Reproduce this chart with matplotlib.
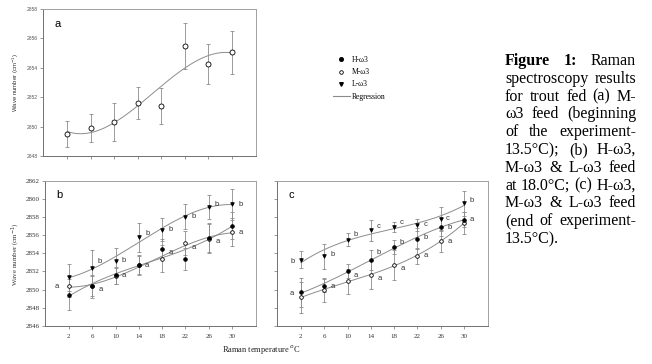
import numpy as np
import matplotlib
matplotlib.use("Agg")
import matplotlib.pyplot as plt
from matplotlib.lines import Line2D

# ---------------- data ----------------
temps = [2, 6, 10, 14, 18, 22, 26, 30]

a_m = [2849.5, 2849.9, 2850.3, 2851.6, 2851.4, 2855.5, 2854.27, 2855.05]
a_m_err = [0.9, 0.95, 1.3, 1.1, 1.25, 1.55, 1.37, 1.45]

b_h = [2849.44, 2850.4, 2851.56, 2852.67, 2854.52, 2853.4, 2855.75, 2857.07]
b_h_err = [1.7, 1.1, 0.95, 1.1, 1.1, 1.2, 1.6, 1.5]
b_m = [2850.35, 2850.35, 2851.5, 2852.67, 2853.4, 2855.15, 2855.6, 2856.33]
b_m_err = [1.2, 1.3, 0.9, 1.0, 1.5, 1.3, 1.6, 1.55]
b_l = [2851.33, 2852.37, 2853.19, 2855.78, 2856.63, 2858.07, 2859.11, 2859.41]
b_l_err = [1.45, 1.96, 1.44, 1.6, 1.26, 1.37, 1.33, 1.74]

c_h = [2849.7, 2850.44, 2852.04, 2853.3, 2854.7, 2855.63, 2856.89, 2857.74]
c_h_err = [1.6, 0.7, 0.75, 1.1, 0.8, 1.2, 1.0, 0.8]
c_m = [2849.15, 2849.96, 2850.89, 2851.6, 2852.74, 2853.74, 2855.33, 2857.37]
c_m_err = [1.7, 1.3, 1.35, 1.5, 1.65, 0.9, 1.2, 1.2]
c_l = [2853.3, 2853.67, 2855.52, 2856.56, 2856.93, 2857.15, 2857.81, 2859.52]
c_l_err = [0.95, 1.4, 0.7, 1.15, 0.55, 0.7, 1.3, 1.4]

# significance letters: (series, index, letter)
b_letters = [("M", 0, "a"), ("L", 1, "b"), ("M", 1, "a"), ("L", 2, "b"), ("H", 2, "a"),
             ("L", 3, "b"), ("M", 3, "a"), ("L", 4, "b"), ("H", 4, "a"),
             ("L", 5, "b"), ("M", 5, "a"), ("L", 6, "b"), ("M", 6, "a"),
             ("L", 7, "b"), ("M", 7, "a")]
c_letters = [("L", 0, "b"), ("H", 0, "a"), ("L", 1, "b"), ("H", 1, "a"),
             ("L", 2, "b"), ("H", 2, "a"), ("L", 3, "c"), ("H", 3, "b"), ("M", 3, "a"),
             ("L", 4, "c"), ("H", 4, "b"), ("M", 4, "a"), ("L", 5, "c"), ("H", 5, "b"),
             ("M", 5, "a"), ("L", 6, "c"), ("H", 6, "b"), ("M", 6, "a"),
             ("L", 7, "b"), ("H", 7, "a")]

legend_labels = ["H-\u03c93", "M-\u03c93", "L-\u03c93", "Regression"]
ylabel = "Wave number (cm$^{-1}$)"
xlabel = "Raman temperature $^{o}$C"
caption_lines = ["Figure 1: Raman", "spectroscopy results", "for trout fed (a) M-",
                 "\u03c93 feed (beginning", "of the experiment-",
                 "13.5\u00b0C); (b) H-\u03c93,", "M-\u03c93 & L-\u03c93 feed",
                 "at 18.0\u00b0C; (c) H-\u03c93,", "M-\u03c93 & L-\u03c93 feed",
                 "(end of experiment-", "13.5\u00b0C)."]

# ---------------- figure ----------------
W, H = 652, 364
fig = plt.figure(figsize=(W / 100, H / 100), dpi=100)
fig.patch.set_facecolor("white")

def px_axes(l, t, r, b):
    return fig.add_axes([l / W, 1 - b / H, (r - l) / W, (b - t) / H])

SERIF = ["Liberation Serif", "DejaVu Serif"]
SANS = ["Liberation Sans", "DejaVu Sans"]
LINE_C = "#8c8c8c"
ERR_C = "#8c8c8c"

def style_axes(ax):
    for s in ["top", "right"]:
        ax.spines[s].set_color("#a0a0a0")
    for s in ["left", "bottom"]:
        ax.spines[s].set_color("#707070")
    for s in ax.spines.values():
        s.set_linewidth(0.7)
    ax.tick_params(direction="out", length=2.2, width=0.5, colors="#707070", pad=1.5)
    ax.set_xlim(-2.1, 34.1)
    ax.set_xticks(temps)

xs = np.linspace(2, 30, 200)

def fit_curve(ax, y):
    p = np.polyfit(temps, y, 3)
    ax.plot(xs, np.polyval(p, xs), color=LINE_C, lw=0.7, zorder=1)

def series(ax, y, err, marker, face, ms):
    ax.errorbar(temps, y, yerr=err, fmt="none", ecolor=ERR_C, elinewidth=0.6,
                capsize=1.6, capthick=0.6, zorder=2)
    ax.plot(temps, y, linestyle="none", marker=marker, markersize=ms,
            markerfacecolor=face, markeredgecolor="black", markeredgewidth=0.6, zorder=3)

# panel a
axa = px_axes(43, 9, 256, 156)
style_axes(axa)
axa.set_ylim(2848, 2858)
axa.set_yticks(np.arange(2848, 2859, 2))
axa.set_xticklabels([])
for lab in axa.get_yticklabels():
    lab.set_fontfamily(SANS)
    lab.set_fontsize(3.6)
    lab.set_color("#555555")
fit_curve(axa, a_m)
series(axa, a_m, a_m_err, "o", "white", 3.6)
axa.text(0.055, 0.9, "a", transform=axa.transAxes, fontsize=8, family=SANS,
         va="center", ha="left")
fig.text(16 / W, 1 - 82 / H, ylabel, rotation=90, fontsize=4.3, family=SANS,
         ha="center", va="center", color="#333333")

# panels b and c
def lower_panel(l, r, h, he, m, me, lo, le, letters, tag, show_ylabels, offs):
    ax = px_axes(l, 181, r, 325.7)
    style_axes(ax)
    ax.set_ylim(2846, 2862)
    ax.set_yticks(np.arange(2846, 2863, 2))
    if not show_ylabels:
        ax.set_yticklabels([])
    for lab in ax.get_xticklabels() + ax.get_yticklabels():
        lab.set_fontfamily(SERIF)
        lab.set_fontsize(5)
        lab.set_color("#333333")
    ax.tick_params(axis="x", pad=3.5)
    for y in (h, m, lo):
        fit_curve(ax, y)
    series(ax, lo, le, "v", "black", 2.6)
    series(ax, m, me, "o", "white", 2.6)
    series(ax, h, he, "o", "black", 2.6)
    ax.text(0.055, 0.9, tag, transform=ax.transAxes, fontsize=8, family=SANS,
            va="center", ha="left")
    data = {"H": h, "M": m, "L": lo}
    for k, (s, i, letter) in enumerate(letters):
        dx, dy = offs.get((s, i), (4.5, 0))
        ax.annotate(letter, (temps[i], data[s][i]), xytext=(dx, dy),
                    textcoords="offset points", fontsize=5.5, family=SANS,
                    color="#333333", ha="left" if dx >= 0 else "right", va="center")
    return ax

b_offs = {("M", 0): (-7, 0), ("L", 1): (3.5, 5), ("M", 1): (4.5, -2),
          ("L", 3): (4.5, 2.5), ("H", 4): (4.5, -2.5), ("M", 5): (4.5, -3.5),
          ("L", 6): (4, 2), ("M", 6): (5, -2), ("L", 7): (4.5, 0)}
c_offs = {("L", 0): (-4.5, -1), ("H", 0): (-5, -1), ("L", 1): (4.5, 1),
          ("H", 1): (4.5, -1), ("L", 2): (4.5, 4), ("H", 2): (4.5, -3),
          ("L", 3): (4.5, 2.5), ("H", 3): (4, 5.5), ("M", 3): (5, -2.5),
          ("L", 4): (4, 3), ("H", 4): (4, 3.5), ("M", 4): (4.5, -2.5),
          ("L", 5): (4.5, 0), ("H", 5): (4.5, 0.5), ("M", 5): (4.5, 0.5),
          ("L", 6): (3.5, 0), ("H", 6): (4.5, 0), ("M", 6): (5, 0),
          ("L", 7): (4, 2), ("H", 7): (4, 0)}

axb = lower_panel(45, 256, b_h, b_h_err, b_m, b_m_err, b_l, b_l_err, b_letters, "b", True, b_offs)
axc = lower_panel(277, 488, c_h, c_h_err, c_m, c_m_err, c_l, c_l_err, c_letters, "c", False, c_offs)

fig.text(16 / W, 1 - 254 / H, ylabel, rotation=90, fontsize=5, family=SERIF,
         ha="center", va="center", color="#333333")
fig.text(261 / W, 1 - 350 / H, xlabel, fontsize=6, family=SERIF,
         ha="center", va="center", color="#222222")

# legend
handles = [Line2D([], [], ls="none", marker="o", mfc="black", mec="black", ms=2.6),
           Line2D([], [], ls="none", marker="o", mfc="white", mec="black", ms=2.6, mew=0.6),
           Line2D([], [], ls="none", marker="v", mfc="black", mec="black", ms=2.6),
           Line2D([], [], color=LINE_C, lw=0.8)]
fig.legend(handles, legend_labels, loc="upper left", bbox_to_anchor=(333 / W, 1 - 56 / H),
           frameon=False, prop={"family": SERIF, "size": 5.5}, labelspacing=0.55,
           handlelength=2.2, handletextpad=0.3, borderpad=0, borderaxespad=0)

# justified caption
fig.canvas.draw()
renderer = fig.canvas.get_renderer()
x0, x1 = 505, 636
CAP_FS = 11.5
for i, line in enumerate(caption_lines):
    words = line.split(" ")
    ybase = 1 - (65 + i * 17.8) / H
    texts = []
    for j, w in enumerate(words):
        bold = (i == 0 and j < 2)
        t = fig.text(0, ybase, w, fontsize=CAP_FS, family=SERIF,
                     weight="bold" if bold else "normal", va="baseline", ha="left")
        texts.append(t)
    widths = [t.get_window_extent(renderer).width for t in texts]
    last = (i == len(caption_lines) - 1)
    space = renderer.points_to_pixels(CAP_FS) * 0.25
    if len(words) > 1 and not last:
        gap = max((x1 - x0 - sum(widths)) / (len(words) - 1), space * 0.6)
    else:
        gap = space
    x = x0
    for t, w in zip(texts, widths):
        t.set_x(x / W)
        x += w + gap

fig.savefig("out.png", dpi=100, facecolor="white")
